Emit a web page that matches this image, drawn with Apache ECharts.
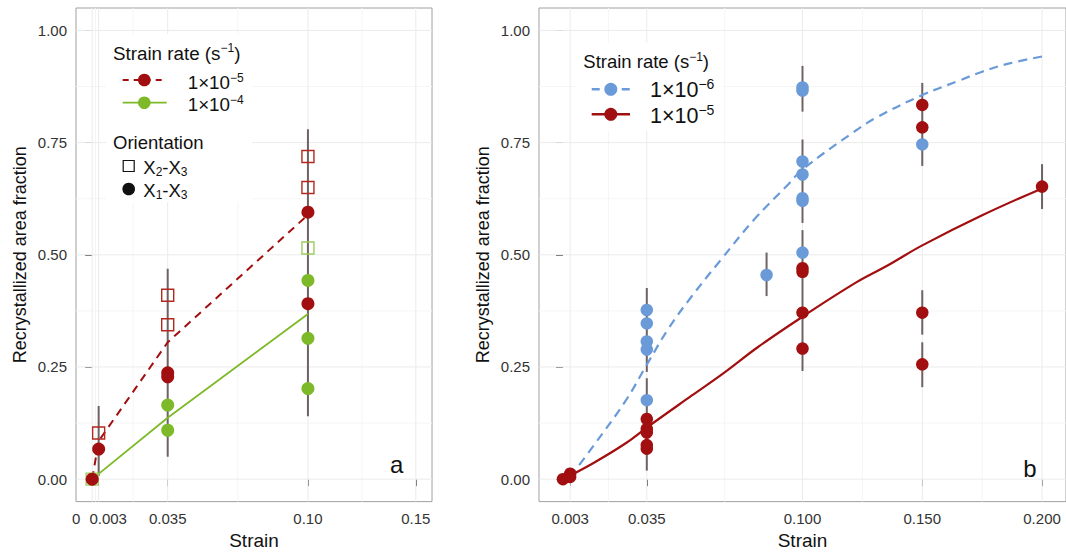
<!DOCTYPE html>
<html>
<head>
<meta charset="utf-8">
<script src="https://cdn.jsdelivr.net/npm/echarts@6/dist/echarts.min.js"></script>
<style>
  html, body { margin: 0; padding: 0; background: #ffffff; }
  #chart { width: 1066px; height: 555px; }
</style>
</head>
<body>
<div id="chart"></div>
<script>
// ---------- Panel a: strain rates 1e-5 and 1e-4, two sample orientations ----------
const strainTicksA = [0, 0.003, 0.035, 0.10, 0.15];
const strainTickLabelsA = ['0', '0.003', '0.035', '0.10', '0.15'];
const strainMinorA = [0.0015, 0.019, 0.0675, 0.125];

const fractionTicks = [0, 0.25, 0.5, 0.75, 1];
const fractionMinor = [0.125, 0.375, 0.625, 0.875];

// [strain, fraction]
const redSquaresA = [[0.003, 0.103], [0.035, 0.410], [0.035, 0.344], [0.10, 0.719], [0.10, 0.650]];
const redCirclesA = [[0, 0], [0.003, 0.067], [0.035, 0.237], [0.035, 0.228], [0.10, 0.595], [0.10, 0.391]];
const greenSquaresA = [[0, 0], [0.10, 0.515]];
const greenCirclesA = [[0.035, 0.165], [0.035, 0.109], [0.10, 0.443], [0.10, 0.314], [0.10, 0.202]];
// group means joined by lines
const redMeanA = [[0, 0], [0.003, 0.085], [0.035, 0.305], [0.10, 0.589]];
const greenMeanA = [[0, 0], [0.035, 0.137], [0.10, 0.368]];
// [strain, low, high]
const errorBarsA = [[0.003, 0.007, 0.163], [0.035, 0.050, 0.469], [0.10, 0.140, 0.780]];

// ---------- Panel b: strain rates 1e-6 and 1e-5 with fitted curves ----------
const strainTicksB = [0.003, 0.035, 0.100, 0.150, 0.200];
const strainTickLabelsB = ['0.003', '0.035', '0.100', '0.150', '0.200'];
const strainMinorB = [0.019, 0.0675, 0.125, 0.175];

const blueCirclesB = [
  [0.035, 0.377], [0.035, 0.347], [0.035, 0.307], [0.035, 0.289], [0.035, 0.176],
  [0.085, 0.455],
  [0.10, 0.873], [0.10, 0.866], [0.10, 0.708], [0.10, 0.679], [0.10, 0.626], [0.10, 0.620], [0.10, 0.505],
  [0.15, 0.746]
];
const redCirclesB = [
  [0, 0], [0.003, 0.012], [0.003, 0.005],
  [0.035, 0.134], [0.035, 0.112], [0.035, 0.104], [0.035, 0.076], [0.035, 0.068],
  [0.10, 0.470], [0.10, 0.462], [0.10, 0.371], [0.10, 0.291],
  [0.15, 0.834], [0.15, 0.784], [0.15, 0.371], [0.15, 0.256],
  [0.20, 0.652]
];
const errorBarsB = [
  [0.035, 0.239, 0.426], [0.035, 0.019, 0.225],
  [0.085, 0.408, 0.505],
  [0.10, 0.819, 0.921], [0.10, 0.571, 0.757], [0.10, 0.241, 0.555],
  [0.15, 0.698, 0.883], [0.15, 0.322, 0.421], [0.15, 0.205, 0.305],
  [0.20, 0.602, 0.702]
];
const blueFitB = [
  [0.003, 0.005], [0.0124, 0.072], [0.0262, 0.175], [0.035, 0.255], [0.0441, 0.336],
  [0.0537, 0.407], [0.0661, 0.490], [0.0799, 0.579], [0.0937, 0.655], [0.100, 0.690],
  [0.1212, 0.773], [0.1309, 0.806], [0.150, 0.856], [0.1653, 0.888], [0.175, 0.908],
  [0.186, 0.926], [0.200, 0.942]
];
const redFitB = [
  [0, 0], [0.0124, 0.035], [0.0262, 0.080], [0.035, 0.115], [0.0537, 0.186],
  [0.0675, 0.238], [0.0813, 0.294], [0.100, 0.362], [0.1226, 0.439], [0.1355, 0.476],
  [0.150, 0.521], [0.175, 0.588], [0.200, 0.648]
];

// ---------- styling ----------
const FONT = '"Liberation Sans", Arial, Helvetica, sans-serif';
const RED = '#a20f10';
const RED_OPEN = '#b4271f';
const GREEN = '#7db928';
const GREEN_OPEN = '#9ccb5c';
const BLUE = '#6a9bd8';
const BAR = '#6e6262';
const GRID_MAJOR = '#ebebeb';
const GRID_MINOR = '#f5f5f5';
const TICK_TEXT = '#333333';

function labelIndex(ticks, v) {
  for (let i = 0; i < ticks.length; i++) {
    if (Math.abs(ticks[i] - v) < 1e-9) return i;
  }
  return -1;
}

function vGrid(values, color, gi) {
  return {
    type: 'custom', xAxisIndex: gi, yAxisIndex: gi, z: 1, silent: true, clip: false,
    data: values.map(v => [v]),
    encode: { x: 0 },
    renderItem(params, api) {
      const cs = params.coordSys;
      const p = api.coord([api.value(0), 0]);
      return { type: 'line', shape: { x1: p[0], y1: cs.y, x2: p[0], y2: cs.y + cs.height },
               style: { stroke: color, lineWidth: 1 } };
    }
  };
}
function hGrid(values, color, gi) {
  return {
    type: 'custom', xAxisIndex: gi, yAxisIndex: gi, z: 1, silent: true, clip: false,
    data: values.map(v => [v]),
    encode: { y: 0 },
    renderItem(params, api) {
      const cs = params.coordSys;
      const p = api.coord([0, api.value(0)]);
      return { type: 'line', shape: { x1: cs.x, y1: p[1], x2: cs.x + cs.width, y2: p[1] },
               style: { stroke: color, lineWidth: 1 } };
    }
  };
}
function errorBars(data, gi) {
  return {
    type: 'custom', xAxisIndex: gi, yAxisIndex: gi, z: 5, silent: true,
    data: data,
    encode: { x: 0, y: [1, 2] },
    renderItem(params, api) {
      const lo = api.coord([api.value(0), api.value(1)]);
      const hi = api.coord([api.value(0), api.value(2)]);
      return { type: 'line', shape: { x1: lo[0], y1: lo[1], x2: hi[0], y2: hi[1] },
               style: { stroke: BAR, lineWidth: 2 } };
    }
  };
}
function points(data, gi, symbol, size, fill, stroke, z) {
  return {
    type: 'scatter', xAxisIndex: gi, yAxisIndex: gi, z: z, silent: true,
    symbol: symbol, symbolSize: size, data: data,
    itemStyle: { color: fill, borderColor: stroke, borderWidth: stroke ? 1.4 : 0, opacity: 1 }
  };
}
function path(data, gi, color, width, type, smooth, z) {
  return {
    type: 'line', xAxisIndex: gi, yAxisIndex: gi, z: z, silent: true,
    data: data, showSymbol: false, symbol: 'none',
    smooth: smooth,
    lineStyle: { color: color, width: width, type: type }
  };
}

function yAxisCfg(gi) {
  return {
    type: 'value', gridIndex: gi, min: -0.05, max: 1.05,
    axisLine: { show: false }, splitLine: { show: false },
    axisTick: { show: true, length: 7, customValues: fractionTicks, lineStyle: { color: '#555', width: 1 } },
    axisLabel: { customValues: fractionTicks, margin: 9, fontSize: 15, color: TICK_TEXT, fontFamily: FONT,
                 formatter: v => v.toFixed(2) },
    name: 'Recrystallized area fraction', nameLocation: 'middle', nameGap: 47,
    nameTextStyle: { fontSize: 18, color: '#111', fontFamily: FONT }
  };
}

const tickRich = {
  n: { fontSize: 15, color: TICK_TEXT, fontFamily: FONT },
  l: { fontSize: 15, color: TICK_TEXT, fontFamily: FONT, padding: [0, 32, 0, 0] },
  r: { fontSize: 15, color: TICK_TEXT, fontFamily: FONT, padding: [0, 0, 0, 19] }
};

// legend text helper (rich text for super/subscripts)
function legendText(x, y, text, size, lh, supSize, supLh) {
  return {
    type: 'text', x: x, y: y, z: 20, silent: true,
    style: {
      text: text, align: 'left', verticalAlign: 'middle', fill: '#111',
      fontFamily: FONT, fontSize: size,
      rich: {
        m: { fontSize: size, lineHeight: lh, fontFamily: FONT, fill: '#111', color: '#111' },
        sup: { fontSize: supSize, lineHeight: supLh, verticalAlign: 'top', fontFamily: FONT, fill: '#111', color: '#111' },
        sub: { fontSize: supSize, lineHeight: supLh, verticalAlign: 'bottom', fontFamily: FONT, fill: '#111', color: '#111' }
      }
    }
  };
}

const graphics = [
  // legend backgrounds
  { type: 'rect', z: 3, silent: true, shape: { x: 106, y: 34, width: 146, height: 168 }, style: { fill: '#fff' } },
  { type: 'rect', z: 3, silent: true, shape: { x: 576, y: 43, width: 146, height: 88 }, style: { fill: '#fff' } },

  // panel a legend
  legendText(113, 53, '{m|Strain rate (s}{sup|\u22121}{m|)}', 18.8, 22, 12, 13),
  { type: 'line', z: 20, silent: true, shape: { x1: 122.7, y1: 80, x2: 166.7, y2: 80 },
    style: { stroke: RED, lineWidth: 2, lineDash: [6, 5] } },
  { type: 'circle', z: 21, silent: true, shape: { cx: 144.3, cy: 80, r: 6.3 }, style: { fill: RED } },
  legendText(187.7, 82.5, '{m|1\u00d710}{sup|\u22125}', 18.8, 22, 12, 13),
  { type: 'line', z: 20, silent: true, shape: { x1: 122.7, y1: 102.7, x2: 166.7, y2: 102.7 },
    style: { stroke: GREEN, lineWidth: 1.8 } },
  { type: 'circle', z: 21, silent: true, shape: { cx: 144.3, cy: 102.7, r: 6.3 }, style: { fill: GREEN } },
  legendText(187.7, 104.5, '{m|1\u00d710}{sup|\u22124}', 18.8, 22, 12, 13),
  legendText(113, 142.7, '{m|Orientation}', 18.5, 22, 12, 13),
  { type: 'rect', z: 21, silent: true, shape: { x: 123.2, y: 160.5, width: 11, height: 11 },
    style: { fill: 'none', stroke: '#111', lineWidth: 1.2 } },
  legendText(143.3, 167, '{m|X}{sub|2}{m|-X}{sub|3}', 18.5, 22, 12, 13),
  { type: 'circle', z: 21, silent: true, shape: { cx: 128.7, cy: 189, r: 6.3 }, style: { fill: '#111' } },
  legendText(143.3, 190, '{m|X}{sub|1}{m|-X}{sub|3}', 18.5, 22, 12, 13),

  // panel b legend
  legendText(583.3, 61.7, '{m|Strain rate (s}{sup|\u22121}{m|)}', 18.5, 22, 12, 13),
  { type: 'line', z: 20, silent: true, shape: { x1: 591.7, y1: 89.3, x2: 630, y2: 89.3 },
    style: { stroke: BLUE, lineWidth: 2.5, lineDash: [8, 7] } },
  { type: 'circle', z: 21, silent: true, shape: { cx: 610.8, cy: 89.3, r: 6.5 }, style: { fill: BLUE } },
  legendText(650, 89.5, '{m|1\u00d710}{sup|\u22126}', 21.5, 26, 14, 13),
  { type: 'line', z: 20, silent: true, shape: { x1: 591.7, y1: 114.3, x2: 630, y2: 114.3 },
    style: { stroke: RED, lineWidth: 2.5 } },
  { type: 'circle', z: 21, silent: true, shape: { cx: 610.8, cy: 114.3, r: 6.5 }, style: { fill: RED } },
  legendText(650, 115.8, '{m|1\u00d710}{sup|\u22125}', 21.5, 26, 14, 13),

  // panel tags
  { type: 'text', x: 396.7, y: 464.5, z: 20, silent: true,
    style: { text: 'a', align: 'center', verticalAlign: 'middle', fill: '#111', fontSize: 24, fontFamily: FONT } },
  { type: 'text', x: 1030, y: 468.5, z: 20, silent: true,
    style: { text: 'b', align: 'center', verticalAlign: 'middle', fill: '#111', fontSize: 24, fontFamily: FONT } }
];

const option = {
  animation: false,
  backgroundColor: '#ffffff',
  textStyle: { fontFamily: FONT },
  grid: [
    { left: 76, top: 8, width: 356, height: 500, show: true, borderColor: '#a0a0a0', borderWidth: 1, backgroundColor: '#fff' },
    { left: 539, top: 8, width: 532.5, height: 500, show: true, borderColor: '#a0a0a0', borderWidth: 1, backgroundColor: '#fff' }
  ],
  xAxis: [
    {
      type: 'value', gridIndex: 0, min: -0.0075, max: 0.1575,
      axisLine: { show: false }, splitLine: { show: false },
      axisTick: { show: true, length: 7, customValues: strainTicksA, lineStyle: { color: '#555', width: 1 } },
      axisLabel: {
        customValues: strainTicksA, margin: 9.5, fontSize: 15, color: TICK_TEXT, fontFamily: FONT,
        formatter: v => {
          const i = labelIndex(strainTicksA, v);
          if (i < 0) return '';
          const key = i === 0 ? 'l' : (i === 1 ? 'r' : 'n');
          return '{' + key + '|' + strainTickLabelsA[i] + '}';
        },
        rich: tickRich
      },
      name: 'Strain', nameLocation: 'middle', nameGap: 26,
      nameTextStyle: { fontSize: 19, color: '#111', fontFamily: FONT }
    },
    {
      type: 'value', gridIndex: 1, min: -0.01, max: 0.21,
      axisLine: { show: false }, splitLine: { show: false },
      axisTick: { show: true, length: 7, customValues: strainTicksB, lineStyle: { color: '#555', width: 1 } },
      axisLabel: {
        customValues: strainTicksB, margin: 9.5, fontSize: 15, color: TICK_TEXT, fontFamily: FONT,
        formatter: v => {
          const i = labelIndex(strainTicksB, v);
          return i < 0 ? '' : strainTickLabelsB[i];
        }
      },
      name: 'Strain', nameLocation: 'middle', nameGap: 26,
      nameTextStyle: { fontSize: 19, color: '#111', fontFamily: FONT }
    }
  ],
  yAxis: [yAxisCfg(0), yAxisCfg(1)],
  graphic: graphics,
  series: [
    // panel a
    vGrid(strainMinorA, GRID_MINOR, 0),
    hGrid(fractionMinor, GRID_MINOR, 0),
    vGrid(strainTicksA, GRID_MAJOR, 0),
    hGrid(fractionTicks, GRID_MAJOR, 0),
    errorBars(errorBarsA, 0),
    path(redMeanA, 0, RED, 2, [8, 6], false, 6),
    path(greenMeanA, 0, GREEN, 1.8, 'solid', false, 6),
    points(greenSquaresA, 0, 'rect', 12, 'rgba(0,0,0,0)', GREEN_OPEN, 7),
    points(greenCirclesA, 0, 'circle', 13, GREEN, null, 8),
    points(redSquaresA, 0, 'rect', 12, 'rgba(0,0,0,0)', RED_OPEN, 9),
    points(redCirclesA, 0, 'circle', 13, RED, null, 10),

    // panel b
    vGrid(strainMinorB, GRID_MINOR, 1),
    hGrid(fractionMinor, GRID_MINOR, 1),
    vGrid(strainTicksB, GRID_MAJOR, 1),
    hGrid(fractionTicks, GRID_MAJOR, 1),
    errorBars(errorBarsB, 1),
    path(blueFitB, 1, BLUE, 2.2, [9, 6], 0.4, 6),
    path(redFitB, 1, RED, 2.2, 'solid', 0.4, 6),
    points(blueCirclesB, 1, 'circle', 12.5, BLUE, null, 8),
    points(redCirclesB, 1, 'circle', 12.5, RED, null, 9)
  ]
};

const chart = echarts.init(document.getElementById('chart'), null, { renderer: 'svg', width: 1066, height: 555 });
chart.setOption(option);
</script>
</body>
</html>
